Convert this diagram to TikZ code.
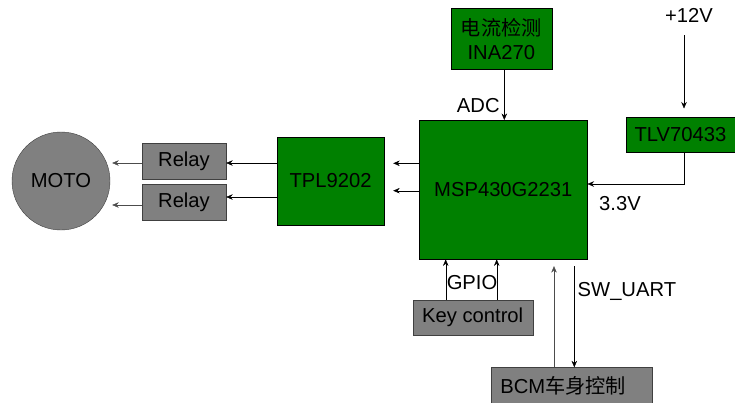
\documentclass[tikz,border=0pt]{standalone}
\usepackage{fontspec}
\setmainfont{Liberation Sans}
\newfontfamily\cjk{Noto Sans CJK SC}
\usepackage{tikz}
\usetikzlibrary{arrows.meta,positioning}
\definecolor{chipc}{HTML}{008000}
\definecolor{blkc}{HTML}{808080}
\definecolor{edge}{HTML}{404040}
\definecolor{ink}{HTML}{000000}
\tikzset{
  chip/.style={draw=black,fill=chipc,thin,align=center,inner sep=2pt},
  blk/.style={draw=edge,fill=blkc,thin,align=center,inner sep=2pt},
  msg/.style={-{Stealth[length=6.5pt,width=5.5pt]},thin,draw=#1},
  msg/.default=ink,
  lbl/.style={inner sep=1.5pt},
}
\begin{document}
\begin{tikzpicture}[x=1pt,y=-1pt,font=\fontsize{20.2}{24}\selectfont]
  \useasboundingbox (0,0) rectangle (735,402);
  % blocks
  \node[chip,minimum width=168pt,minimum height=139pt] (mcu) at (503.3,189.7) {MSP430G2231};
  \node[chip,minimum width=101pt,minimum height=61pt] (ina) at (501.3,38.7) {{\cjk 电流检测}\\INA270};
  \node[chip,minimum width=109pt,minimum height=35pt] (tlv) at (680.5,134.2) {TLV70433};
  \node[chip,minimum width=107pt,minimum height=88pt] (tpl) at (330.5,181) {TPL9202};
  \node[blk,minimum width=84pt,minimum height=36pt] (relA) at (184,161) {Relay};
  \node[blk,minimum width=84pt,minimum height=36pt] (relB) at (184,202) {Relay};
  \node[blk,circle,minimum size=98pt] (moto) at (61,181) {MOTO};
  \node[blk,minimum width=120pt,minimum height=35pt] (key) at (472.7,317.5) {Key control};
  \node[blk,minimum width=161pt,minimum height=36pt,anchor=north] (bcm) at (571.2,367.3) {BCM{\cjk 车身控制}\hspace*{16pt}};
  \node[lbl] (vin) at (689,15) {+12V};
  \coordinate (vtop) at (684,35);

  % power
  \draw[msg,shorten >=8pt] (vtop) -- (vtop |- tlv.north);
  \draw[msg] (vtop |- tlv.south) |- ([yshift=5.7pt]mcu.east);
  \node[lbl] (v33) at (620,204) {3.3V};
  \draw[msg] ([xshift=3pt]ina.south) -- node[lbl,pos=0.72,left=3pt]{ADC} ([xshift=3pt]ina.south |- mcu.north);

  % drive chain
  \draw[msg,shorten >=9pt] (mcu.west |- 0,163.3) -- (tpl.east |- 0,163.3);
  \draw[msg,shorten >=9pt] (mcu.west |- 0,190.7) -- (tpl.east |- 0,190.7);
  \draw[msg] ([yshift=-2pt]relA.east -| tpl.west) -- ([yshift=-2pt]relA.east);
  \draw[msg] ([yshift=5pt]relB.east -| tpl.west) -- ([yshift=5pt]relB.east);
  \draw[msg=black!70,shorten >=2pt] ([yshift=-2pt]relA.west) -- ([yshift=-2pt]relA.west -| moto.east);
  \draw[msg=black!70,shorten >=2pt] ([yshift=-3pt]relB.west) -- ([yshift=-3pt]relB.west -| moto.east);

  % inputs
  \draw[msg] ([xshift=-27pt]key.north) -- ([xshift=-27pt]key.north |- mcu.south);
  \draw[msg] ([xshift=24pt]key.north) -- ([xshift=24pt]key.north |- mcu.south);
  \node[lbl] (gpio) at (472,283) {GPIO};
  \draw[msg=black!70,shorten >=6.7pt] ([xshift=-17.2pt]bcm.north) -- ([xshift=-17.2pt]bcm.north |- mcu.south);
  \draw[msg,shorten <=6.7pt] ([xshift=3.1pt]bcm.north |- mcu.south) -- ([xshift=3.1pt]bcm.north);
  \node[lbl,anchor=west] (uart) at (576,291) {SW\_UART};
\end{tikzpicture}
\end{document}
